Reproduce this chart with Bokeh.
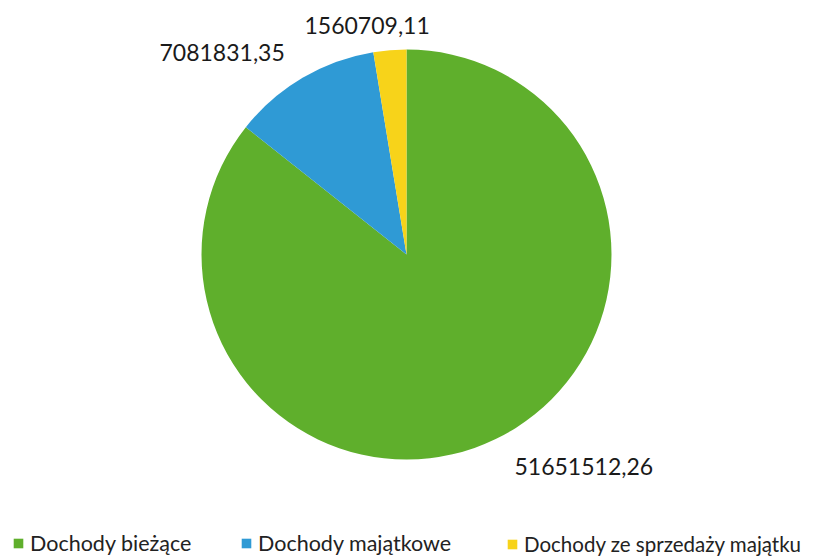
import math
from bokeh.plotting import figure
from bokeh.models import Range1d, ColumnDataSource, Legend, LegendItem
from bokeh.core.properties import value
from bokeh.embed import file_html
from bokeh.resources import INLINE

categories = ["Dochody bieżące", "Dochody majątkowe", "Dochody ze sprzedaży majątku"]
values = [51651512.26, 7081831.35, 1560709.11]
colors = ["#5FAF2C", "#2F9AD5", "#F7D31A"]

W, H = 816, 556
FONT = "Lato"

def fmt(v):
    return f"{v:.2f}".replace(".", ",")

total = sum(values)
starts, ends = [], []
cum = 0.0
for v in values:
    starts.append(math.pi / 2 - 2 * math.pi * cum / total)
    cum += v
    ends.append(math.pi / 2 - 2 * math.pi * cum / total)

def px(x):
    return x
def py(y):
    return H - y

cx, cy, r = px(406), py(254), 205

src = ColumnDataSource(dict(cat=categories, start=starts, end=ends, color=colors,
                            x=[cx] * 3, y=[cy] * 3))

p = figure(width=W, height=H, output_backend="svg", toolbar_location=None,
           x_range=Range1d(0, W), y_range=Range1d(0, H), min_border=0)
p.axis.visible = False
p.grid.visible = False
p.outline_line_color = None
p.background_fill_color = "white"

wr = p.wedge(x="x", y="y", radius=r, start_angle="start", end_angle="end",
             direction="clock", fill_color="color", line_color=None, source=src)

label_pos = [(514, 466), (159, 52), (304, 25)]
lsrc = ColumnDataSource(dict(
    x=[px(a) for a, b in label_pos],
    y=[py(b) for a, b in label_pos],
    t=[fmt(v) for v in values]))
p.text(x="x", y="y", text="t", source=lsrc, text_font=value(FONT),
       text_font_size="23px", text_color="#1a1a1a", text_baseline="middle",
       text_align="left")

leg_x = [12, 240, 506]
leg_fs = ["21.5px", "21.5px", "20.5px"]
for i, c in enumerate(categories):
    lg = Legend(items=[LegendItem(label=c, renderers=[wr], index=i)],
                orientation="horizontal", location=(leg_x[i], 0),
                label_text_font=FONT, label_text_font_size=leg_fs[i],
                label_text_color="#222222", glyph_width=12, glyph_height=12,
                label_standoff=6, spacing=0, padding=0, margin=0,
                border_line_color=None, background_fill_alpha=0)
    p.add_layout(lg, "center")

open("out.html", "w").write(file_html(p, INLINE))
